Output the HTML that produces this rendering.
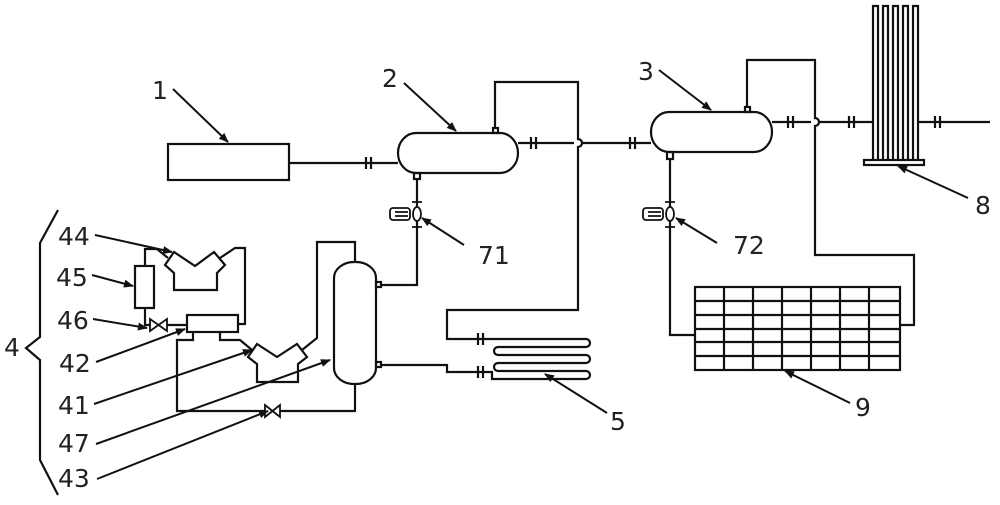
<!DOCTYPE html>
<html><head><meta charset="utf-8"><style>html,body{margin:0;padding:0;background:#fff}svg{display:block}</style></head><body>
<svg width="1000" height="505" viewBox="0 0 1000 505" xmlns="http://www.w3.org/2000/svg" font-family="DejaVu Sans, Liberation Sans, sans-serif">
<defs><marker id="a" markerWidth="10" markerHeight="8" refX="9" refY="4" orient="auto" markerUnits="userSpaceOnUse"><path d="M0,0 L10,4 L0,8 Z" fill="#111"/></marker></defs>
<g fill="none" stroke="#111" stroke-width="2.2">
<rect x="168" y="144" width="121" height="36"/>
<path d="M289,163 H398"/>
<path d="M366,157 V169 M371,157 V169" />
<rect x="398" y="133" width="120" height="40" rx="18" ry="20"/>
<rect x="493" y="128" width="5" height="5"/>
<rect x="414" y="173" width="6" height="6"/>
<path d="M495,128 V82 H578 V139 A4,4 0 0 1 578,147 V310 H447 V339 H492"/>
<path d="M518,143 H574 M582,143 H651"/>
<path d="M531,137 V149 M536,137 V149 M630,137 V149 M635,137 V149"/>
<path d="M478,333 V345 M483,333 V345 M478,366 V378 M483,366 V378"/>
<path d="M492,339 H586 A4,4 0 0 1 586,347 H498 A4,4 0 0 0 498,355 H586 A4,4 0 0 1 586,363 H498 A4,4 0 0 0 498,371 H586 A4,4 0 0 1 586,379 H492 V372 H447 V365 H380"/>
<path d="M417,179 V285 H380"/>
<rect x="651" y="112" width="121" height="40" rx="18" ry="20"/>
<rect x="745" y="107" width="5" height="5"/>
<rect x="667" y="152" width="6" height="7"/>
<path d="M747,107 V60 H815 V118 A4,4 0 0 1 815,126 V255 H914 V325 H900"/>
<path d="M772,122 H811 M819,122 H872"/>
<path d="M788,116 V128 M793,116 V128 M849,116 V128 M854,116 V128 M935,116 V128 M940,116 V128"/>
<path d="M918,122 H990"/>
<path d="M670,159 V335 H695"/>
<path d="M873,160 V6 H878 V160 M883,160 V6 H888 V160 M893,160 V6 H898 V160 M903,160 V6 H908 V160 M913,160 V6 H918 V160"/>
<rect x="864" y="160" width="60" height="5"/>
<rect x="695" y="287" width="205" height="83"/>
<path d="M724,287 V370 M753,287 V370 M782,287 V370 M811,287 V370 M840,287 V370 M869,287 V370 M695,301 H900 M695,315 H900 M695,329 H900 M695,342 H900 M695,356 H900"/>
<rect x="334" y="262" width="42" height="122" rx="20" ry="16"/>
<rect x="376" y="282" width="5" height="5"/><rect x="376" y="362" width="5" height="5"/>
<path d="M355,262 V242 H317 V338 L302,350"/>
<path d="M355,384 V411 H280 M265,411 H177 V340 H193 V332 M220,332 V340 H240 L252,350"/>
<path d="M265,405 L280,417 V405 L265,417 Z" stroke-width="1.8"/>
<path d="M248,357 L257,344 L277,357 L297,344 L307,357 L298,364 V382 H257 V364 Z"/>
<path d="M165,265 L174,252 L195,266 L214,252 L225,265 L217,273 V290 H174 V273 Z"/>
<path d="M168,258 L157,249 H145 V266 M145,308 V325 H150 M167,325 H187"/>
<path d="M220,258 L235,248 H245 V324 H238"/>
<rect x="135" y="266" width="19" height="42"/>
<rect x="187" y="315" width="51" height="17"/>
<path d="M150,319 L167,331 V319 L150,331 Z" stroke-width="1.8"/>
<path d="M58,210 L40,243 V337 L26,348 L40,360 V460 L58,495"/>
</g>
<g stroke="#111" stroke-width="1.8" fill="#fff">
<rect x="390" y="208" width="20" height="12" rx="3"/><path d="M395,212 H408 M395,216 H408" /><ellipse cx="417" cy="214" rx="4" ry="7"/>
<path d="M412,202 H422 M412,227 H422" fill="none"/>
<rect x="643" y="208" width="20" height="12" rx="3"/><path d="M648,212 H661 M648,216 H661"/><ellipse cx="670" cy="214" rx="4" ry="7"/>
<path d="M665,202 H675 M665,227 H675" fill="none"/>
</g>
<g stroke="#111" stroke-width="2" fill="none" marker-end="url(#a)">
<path d="M173,89 L228,142"/>
<path d="M404,83 L456,131"/>
<path d="M659,70 L711,110"/>
<path d="M464,245 L422,218"/>
<path d="M717,243 L676,218"/>
<path d="M968,198 L898,166"/>
<path d="M850,403 L785,371"/>
<path d="M607,413 L545,374"/>
<path d="M95,235 L172,252"/>
<path d="M92,275 L133,286"/>
<path d="M93,319 L147,328"/>
<path d="M96,362 L185,329"/>
<path d="M94,404 L252,350"/>
<path d="M96,444 L330,360"/>
<path d="M97,479 L268,411"/>
</g>
<g font-size="25" fill="#222">
<text x="152" y="99">1</text>
<text x="382" y="87">2</text>
<text x="638" y="80">3</text>
<text x="478" y="264">71</text>
<text x="733" y="254">72</text>
<text x="975" y="214">8</text>
<text x="855" y="416">9</text>
<text x="610" y="430">5</text>
<text x="4" y="356">4</text>
<text x="58" y="245">44</text>
<text x="56" y="286">45</text>
<text x="57" y="329">46</text>
<text x="59" y="372">42</text>
<text x="58" y="414">41</text>
<text x="58" y="452">47</text>
<text x="58" y="487">43</text>
</g>
</svg>
</body></html>
